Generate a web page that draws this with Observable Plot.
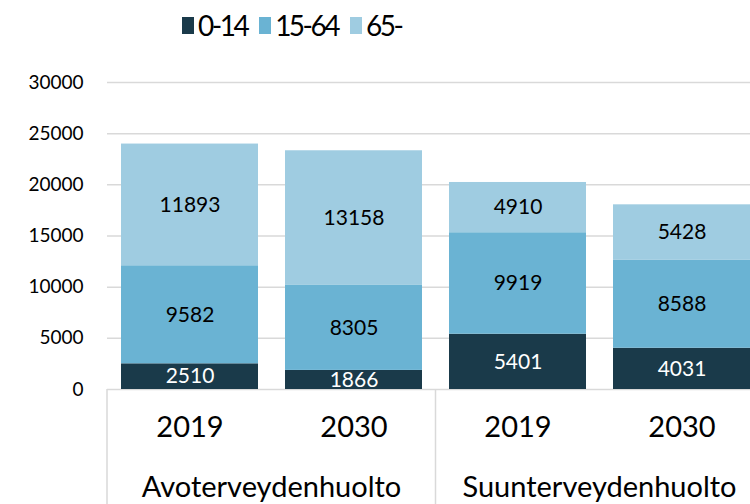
<!DOCTYPE html>
<html>
<head>
<meta charset="utf-8">
<script src="https://cdn.jsdelivr.net/npm/d3@7"></script>
<script src="https://cdn.jsdelivr.net/npm/@observablehq/plot@0.6"></script>
<style>
  html, body { margin: 0; padding: 0; background: #fff; overflow: hidden; }
  #wrap { position: relative; width: 750px; height: 504px; font-family: Lato, "Open Sans", sans-serif; }
  #legend { position: absolute; top: 8px; left: 182px; display: flex; align-items: center; font-size: 28px; color: #000; }
  #legend .item { display: flex; align-items: center; margin-right: 12px; }
  #legend .sw { width: 12px; height: 17px; margin-right: 4px; }
  #legend span { display: inline-block; letter-spacing: -2.5px; }
  #chart { position: absolute; left: 0; top: 0; }
</style>
</head>
<body>
<div id="wrap">
  <div id="chart"></div>
  <div id="legend"></div>
</div>
<script>
const categories = ["Avoterveydenhuolto", "Suunterveydenhuolto"];
const years = ["2019", "2030"];
const ageGroups = ["0-14", "15-64", "65-"];
const colors = ["#1a3a4a", "#6ab3d3", "#9fcce1"];
// order: Avo 2019, Avo 2030, Suu 2019, Suu 2030
const v0_14 = [2510, 1866, 5401, 4031];
const v15_64 = [9582, 8305, 9919, 8588];
const v65 = [11893, 13158, 4910, 5428];
const yTicks = [0, 5000, 10000, 15000, 20000, 25000, 30000];

const keys = [];
categories.forEach(c => years.forEach(y => keys.push(c + "|" + y)));
const series = [v0_14, v15_64, v65];
const rows = [];
keys.forEach((k, i) => ageGroups.forEach((a, j) => rows.push({key: k, age: a, value: series[j][i]})));

const plot = Plot.plot({
  width: 750,
  height: 504,
  marginTop: 82,
  marginBottom: 115,
  marginLeft: 107,
  marginRight: 0,
  style: {fontFamily: "Lato, 'Open Sans', sans-serif", background: "transparent", overflow: "hidden"},
  x: {domain: keys, range: [107, 764], paddingInner: 0.167, paddingOuter: 0.08, align: 0.5, axis: null},
  y: {domain: [0, 30000], range: [389, 82], axis: null},
  color: {domain: ageGroups, range: colors},
  marks: [
    Plot.gridY(yTicks, {stroke: "#d9d9d9", strokeOpacity: 1, strokeWidth: 1.5}),
    Plot.axisY(yTicks, {tickSize: 0, tickPadding: 24, fontSize: 19, tickFormat: d => String(d), fill: "#000", label: null}),
    Plot.axisX({tickSize: 0, tickPadding: 27, fontSize: 29, tickFormat: d => d.split("|")[1], fill: "#000", label: null}),
    Plot.barY(rows, {x: "key", y: "value", fill: "age", order: ageGroups}),
    Plot.text(rows, Plot.stackY({x: "key", y: "value", z: "age", order: ageGroups,
      text: d => d.age === "0-14" ? String(d.value) : "", fill: "#fff", fontSize: 21})),
    Plot.text(rows, Plot.stackY({x: "key", y: "value", z: "age", order: ageGroups,
      text: d => d.age === "0-14" ? "" : String(d.value), fill: "#000", fontSize: 21}))
  ]
});
document.getElementById("chart").appendChild(plot);

// group separators and group labels, positioned with Plot's x scale
const xs = plot.scale("x");
const svg = d3.select(plot);
const g = svg.append("g");
const bw = xs.bandwidth;
const y0 = 389;
const leftEdge = 107;
const mid = (xs.apply(keys[1]) + bw + xs.apply(keys[2])) / 2;
[leftEdge, mid].forEach(x => {
  g.append("line").attr("x1", x).attr("x2", x).attr("y1", y0).attr("y2", 504)
    .attr("stroke", "#d9d9d9").attr("stroke-width", 1.5);
});
categories.forEach((c, i) => {
  const a = xs.apply(c + "|" + years[0]) + bw / 2;
  const b = xs.apply(c + "|" + years[1]) + bw / 2;
  g.append("text").attr("x", (a + b) / 2).attr("y", 497)
    .attr("text-anchor", "middle").attr("font-size", 29).attr("fill", "#000")
    .text(c);
});

// legend
const leg = d3.select("#legend");
ageGroups.forEach((a, i) => {
  const it = leg.append("div").attr("class", "item");
  it.append("div").attr("class", "sw").style("background", colors[i]);
  it.append("span").text(a);
});
</script>
</body>
</html>
